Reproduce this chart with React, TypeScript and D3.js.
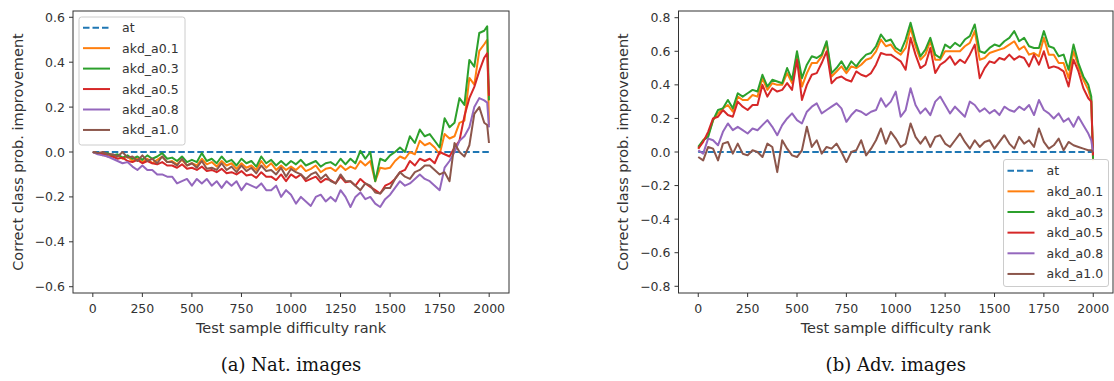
import React from 'react';
import * as d3 from 'd3';

// x positions (difficulty rank) shared by all series
const RANKS = [...d3.range(0, 1976, 25), 1990, 1999];
const AT_RANKS = [0, 1999];
const AT_VALUES = [0, 0];

const SERIES_NAMES = ['at', 'akd_a0.1', 'akd_a0.3', 'akd_a0.5', 'akd_a0.8', 'akd_a1.0'];
const COLORS = ['#1f77b4', '#ff7f0e', '#2ca02c', '#d62728', '#9467bd', '#8c564b'];

const X_TICKS = [0, 250, 500, 750, 1000, 1250, 1500, 1750, 2000];
const NAT_Y_TICKS = [-0.6, -0.4, -0.2, 0.0, 0.2, 0.4, 0.6];
const ADV_Y_TICKS = [-0.8, -0.6, -0.4, -0.2, 0.0, 0.2, 0.4, 0.6, 0.8];

// ---- (a) Nat. images ----
const NAT_A01 = [
  0, -0.005, -0.015, -0.01, -0.02, -0.015, -0.03, -0.02, -0.04, -0.03,
  -0.045, -0.03, -0.05, -0.035, -0.02, -0.045, -0.04, -0.055, -0.035, -0.06,
  -0.05, -0.06, -0.03, -0.055, -0.045, -0.065, -0.04, -0.06, -0.05, -0.075,
  -0.05, -0.07, -0.06, -0.08, -0.04, -0.07, -0.05, -0.08, -0.06, -0.08,
  -0.065, -0.08, -0.06, -0.085, -0.075, -0.06, -0.09, -0.075, -0.07, -0.085,
  -0.06, -0.08, -0.065, -0.075, -0.04, -0.06, -0.04, -0.13, -0.07, -0.075,
  -0.07, -0.04, -0.02, -0.03, 0.0, -0.01, 0.05, 0.03, 0.04, 0.02,
  -0.01, 0.08, 0.06, 0.07, 0.13, 0.14, 0.33, 0.3, 0.45, 0.48,
  0.5, 0.12,
];
const NAT_A03 = [
  0, -0.005, -0.01, -0.005, -0.015, -0.01, -0.025, -0.015, -0.03, -0.02,
  -0.035, -0.015, -0.03, -0.02, -0.005, -0.03, -0.025, -0.04, -0.02, -0.045,
  -0.035, -0.045, -0.005, -0.04, -0.03, -0.05, -0.02, -0.045, -0.035, -0.06,
  -0.03, -0.05, -0.04, -0.065, -0.02, -0.05, -0.035, -0.06, -0.04, -0.06,
  -0.04, -0.055, -0.035, -0.06, -0.05, -0.04, -0.065, -0.05, -0.045, -0.06,
  -0.03, -0.055, -0.03, -0.05, 0.005, -0.03, 0.0, -0.13, -0.03, -0.04,
  -0.015, 0.0, 0.02, 0.0, 0.07, 0.04, 0.1, 0.07, 0.08, 0.05,
  0.02, 0.15, 0.11, 0.13, 0.24, 0.21, 0.41, 0.38, 0.53, 0.54,
  0.56, 0.23,
];
const NAT_A05 = [
  0, -0.005, -0.01, -0.02, -0.02, -0.03, -0.025, -0.04, -0.045, -0.035,
  -0.05, -0.04, -0.05, -0.055, -0.045, -0.06, -0.06, -0.07, -0.055, -0.075,
  -0.07, -0.08, -0.065, -0.085, -0.08, -0.09, -0.075, -0.095, -0.09, -0.1,
  -0.085, -0.105, -0.1, -0.115, -0.09, -0.11, -0.11, -0.125, -0.1, -0.13,
  -0.1, -0.115, -0.1, -0.13, -0.12, -0.11, -0.135, -0.12, -0.125, -0.14,
  -0.11, -0.135, -0.13, -0.15, -0.12, -0.14, -0.155, -0.17, -0.185, -0.15,
  -0.14, -0.12, -0.09, -0.08, -0.04, -0.06, -0.03, -0.04, -0.03, -0.05,
  0.0, -0.01, -0.02, 0.02, 0.05, 0.16, 0.24, 0.29, 0.36, 0.42,
  0.44, 0.25,
];
const NAT_A08 = [
  0, -0.01, -0.015, -0.02, -0.03, -0.04, -0.05, -0.045, -0.065, -0.08,
  -0.06, -0.08, -0.08, -0.1, -0.1, -0.11, -0.11, -0.14, -0.13, -0.12,
  -0.15, -0.12, -0.14, -0.12, -0.15, -0.13, -0.16, -0.13, -0.15, -0.13,
  -0.17, -0.14, -0.15, -0.16, -0.14, -0.17, -0.17, -0.15, -0.2, -0.17,
  -0.19, -0.23, -0.2, -0.22, -0.24, -0.2, -0.19, -0.22, -0.2, -0.22,
  -0.17, -0.2, -0.245, -0.2, -0.18, -0.21, -0.2, -0.23, -0.245, -0.21,
  -0.19, -0.16, -0.13, -0.15, -0.14, -0.12, -0.1, -0.12, -0.13, -0.15,
  -0.17, -0.07, -0.04, 0.0, 0.05, 0.07, 0.11, 0.2, 0.24, 0.23,
  0.22, 0.11,
];
const NAT_A10 = [
  0, -0.005, 0.0, -0.01, -0.01, -0.02, 0.0, -0.025, -0.02, -0.04,
  -0.015, -0.04, -0.03, -0.05, -0.02, -0.045, -0.045, -0.06, -0.03, -0.06,
  -0.05, -0.07, -0.04, -0.075, -0.07, -0.08, -0.05, -0.08, -0.065, -0.09,
  -0.06, -0.085, -0.07, -0.095, -0.06, -0.085, -0.08, -0.1, -0.07, -0.11,
  -0.075, -0.09, -0.1, -0.12, -0.1, -0.09, -0.12, -0.1, -0.13, -0.14,
  -0.1, -0.13, -0.13, -0.15, -0.17, -0.14, -0.15, -0.18, -0.185, -0.16,
  -0.16, -0.12, -0.09, -0.11, -0.12, -0.09, -0.08, -0.06, -0.06, -0.08,
  -0.1, -0.09, -0.13, 0.04, 0.0, -0.02, 0.03, 0.17, 0.2, 0.13,
  0.12, 0.04,
];

// ---- (b) Adv. images ----
const ADV_A01 = [
  0.02, 0.07, 0.10, 0.19, 0.23, 0.26, 0.28, 0.24, 0.33, 0.31,
  0.31, 0.34, 0.33, 0.44, 0.37, 0.41, 0.40, 0.40, 0.47, 0.41,
  0.58, 0.39, 0.47, 0.53, 0.53, 0.57, 0.65, 0.45, 0.48, 0.51,
  0.47, 0.51, 0.50, 0.52, 0.55, 0.56, 0.60, 0.67, 0.63, 0.64,
  0.60, 0.58, 0.62, 0.74, 0.63, 0.55, 0.58, 0.66, 0.55, 0.55,
  0.60, 0.60, 0.60, 0.60, 0.63, 0.65, 0.72, 0.55, 0.56, 0.59,
  0.60, 0.61, 0.62, 0.64, 0.66, 0.61, 0.63, 0.58, 0.59, 0.57,
  0.68, 0.58, 0.58, 0.53, 0.53, 0.44, 0.60, 0.51, 0.43, 0.37,
  0.31, -0.05,
];
const ADV_A03 = [
  0.03, 0.07, 0.09, 0.19, 0.25, 0.26, 0.31, 0.26, 0.35, 0.33,
  0.35, 0.37, 0.36, 0.46, 0.39, 0.43, 0.42, 0.41, 0.50, 0.43,
  0.60, 0.44, 0.52, 0.57, 0.56, 0.58, 0.66, 0.47, 0.50, 0.54,
  0.49, 0.54, 0.51, 0.55, 0.58, 0.59, 0.63, 0.70, 0.66, 0.67,
  0.62, 0.60, 0.67, 0.77, 0.66, 0.57, 0.61, 0.68, 0.58, 0.56,
  0.64, 0.62, 0.65, 0.63, 0.67, 0.69, 0.76, 0.60, 0.59, 0.62,
  0.64, 0.63, 0.66, 0.68, 0.72, 0.66, 0.68, 0.63, 0.62, 0.62,
  0.72, 0.63, 0.62, 0.57, 0.58, 0.49, 0.64, 0.53, 0.45, 0.40,
  0.33, -0.04,
];
const ADV_A05 = [
  0.02, 0.06, 0.12, 0.20, 0.21, 0.25, 0.22, 0.21, 0.30, 0.27,
  0.25, 0.28, 0.28, 0.40, 0.33, 0.38, 0.36, 0.37, 0.41, 0.37,
  0.55, 0.31, 0.40, 0.46, 0.47, 0.53, 0.60, 0.41, 0.44, 0.45,
  0.43, 0.42, 0.48, 0.46, 0.45, 0.47, 0.52, 0.59, 0.58, 0.58,
  0.56, 0.54, 0.49, 0.68, 0.58, 0.50, 0.52, 0.62, 0.47, 0.52,
  0.54, 0.57, 0.52, 0.55, 0.53, 0.58, 0.64, 0.44, 0.50, 0.54,
  0.53, 0.56, 0.55, 0.58, 0.55, 0.57, 0.56, 0.51, 0.58, 0.52,
  0.60, 0.50, 0.51, 0.50, 0.48, 0.39, 0.55, 0.48, 0.38, 0.32,
  0.30, -0.02,
];
const ADV_A08 = [
  0.01, -0.01, 0.08, 0.07, 0.04, 0.12, 0.17, 0.13, 0.15, 0.13,
  0.11, 0.14, 0.13, 0.16, 0.19, 0.15, 0.10, 0.16, 0.20, 0.23,
  0.19, 0.17, 0.24, 0.27, 0.29, 0.23, 0.25, 0.27, 0.29, 0.26,
  0.18, 0.22, 0.25, 0.24, 0.22, 0.24, 0.25, 0.32, 0.27, 0.30,
  0.36, 0.21, 0.25, 0.38, 0.28, 0.23, 0.26, 0.22, 0.30, 0.33,
  0.28, 0.23, 0.27, 0.24, 0.21, 0.30, 0.28, 0.24, 0.26, 0.23,
  0.25, 0.22, 0.27, 0.25, 0.24, 0.27, 0.25, 0.28, 0.22, 0.31,
  0.25, 0.23, 0.20, 0.23, 0.18, 0.20, 0.15, 0.21, 0.16, 0.11,
  0.07, 0.0,
];
const ADV_A10 = [
  -0.03, -0.05, 0.03, 0.02, -0.05, 0.05, 0.06, -0.01, 0.05, -0.01,
  -0.02, 0.01, 0.0, -0.03, 0.05, 0.03, -0.12, 0.07, 0.02, -0.02,
  -0.03, 0.01, 0.15, 0.03, 0.07, -0.01, 0.03, 0.02, 0.05, 0.0,
  -0.06, 0.0, 0.01, 0.07, -0.02, 0.02, 0.07, 0.14, 0.05, 0.12,
  0.08, 0.03, 0.05, 0.17, 0.09, 0.05, 0.09, 0.03, 0.09, 0.10,
  0.05, 0.03, 0.07, 0.11, 0.06, 0.02, 0.07, 0.03, 0.06, 0.07,
  0.02, 0.06, 0.10, 0.05, 0.02, 0.09, 0.05, 0.07, 0.03, 0.14,
  0.06, 0.02, 0.04, 0.08, 0.01, 0.06, 0.04, 0.03, 0.02, 0.01,
  0.01, 0.0,
];

const NAT_SERIES = [NAT_A01, NAT_A03, NAT_A05, NAT_A08, NAT_A10];
const ADV_SERIES = [ADV_A01, ADV_A03, ADV_A05, ADV_A08, ADV_A10];

const FONT = 'DejaVu Sans, sans-serif';
const INK = '#333';

type PanelProps = {
  left: number; right: number; top: number; bottom: number;
  yMax: number; yTicks: number[]; series: number[][];
  legendX: number; legendY: number; legendW: number; legendH: number;
  legendRowY: number; legendRowGap: number;
  yLabelX: number; caption: string;
};

function Panel(p: PanelProps) {
  const x = d3.scaleLinear().domain([-100, 2100]).range([p.left, p.right]);
  const y = d3.scaleLinear().domain([-p.yMax, p.yMax]).range([p.bottom, p.top]);
  const line = d3.line<number>().x((_, i) => x(RANKS[i])).y((v) => y(v));
  const atLine = d3.line<number>().x((_, i) => x(AT_RANKS[i])).y((v) => y(v));
  const fmt = d3.format('.1f');
  const cx = (p.left + p.right) / 2;
  const cy = (p.top + p.bottom) / 2;
  return (
    <g>
      <defs>
        <clipPath id={'clip' + p.left}>
          <rect x={p.left} y={p.top} width={p.right - p.left} height={p.bottom - p.top} />
        </clipPath>
      </defs>
      <g clipPath={`url(#clip${p.left})`}>
        <path d={atLine(AT_VALUES) || ''} fill="none" stroke={COLORS[0]} strokeWidth={2} strokeDasharray="6.5,3" />
        {p.series.map((s, i) => (
          <path key={i} d={line(s) || ''} fill="none" stroke={COLORS[i + 1]} strokeWidth={2} strokeLinejoin="round" />
        ))}
      </g>
      <rect x={p.left} y={p.top} width={p.right - p.left} height={p.bottom - p.top} fill="none" stroke={INK} strokeWidth={1} />
      {X_TICKS.map((t) => (
        <g key={'x' + t}>
          <line x1={x(t)} x2={x(t)} y1={p.bottom} y2={p.bottom + 4} stroke={INK} />
          <text x={x(t)} y={312.5} textAnchor="middle" fontFamily={FONT} fontSize={12.5} fill={INK}>{t}</text>
        </g>
      ))}
      {p.yTicks.map((t) => (
        <g key={'y' + t}>
          <line x1={p.left - 4} x2={p.left} y1={y(t)} y2={y(t)} stroke={INK} />
          <text x={p.left - 8} y={y(t)} dy="0.36em" textAnchor="end" fontFamily={FONT} fontSize={12.5} fill={INK}>{fmt(t)}</text>
        </g>
      ))}
      <text x={cx} y={333} textAnchor="middle" fontFamily={FONT} fontSize={14.5} fill={INK}>Test sample difficulty rank</text>
      <text transform={`translate(${p.yLabelX},${cy}) rotate(-90)`} textAnchor="middle" fontFamily={FONT} fontSize={14.5} fill={INK}>Correct class prob. improvement</text>
      <rect x={p.legendX} y={p.legendY} width={p.legendW} height={p.legendH} rx={2.5} fill="#fff" fillOpacity={0.8} stroke="#ccc" strokeWidth={1} />
      {SERIES_NAMES.map((n, i) => {
        const ly = p.legendRowY + i * p.legendRowGap;
        return (
          <g key={n}>
            <line x1={p.legendX + 4} x2={p.legendX + 31} y1={ly} y2={ly} stroke={COLORS[i]} strokeWidth={2} strokeDasharray={i === 0 ? '6.5,3' : undefined} />
            <text x={p.legendX + 43} y={ly} dy="0.36em" fontFamily={FONT} fontSize={12.5} fill={INK}>{n}</text>
          </g>
        );
      })}
      <text x={cx} y={371} textAnchor="middle" fontFamily="DejaVu Serif, serif" fontSize={18} fill="#111">{p.caption}</text>
    </g>
  );
}

export default function App() {
  return (
    <svg width={1114} height={381} style={{ position: 'absolute', left: 0, top: 0, background: '#fff' }}>
      <rect x={0} y={0} width={1114} height={381} fill="#fff" />
      <Panel left={73} right={509} top={11} bottom={293} yMax={0.628} yTicks={NAT_Y_TICKS} series={NAT_SERIES}
        legendX={79} legendY={17} legendW={106} legendH={128} legendRowY={27.7} legendRowGap={20.45}
        yLabelX={22.5} caption="(a) Nat. images" />
      <Panel left={678.5} right={1113} top={11} bottom={293} yMax={0.84} yTicks={ADV_Y_TICKS} series={ADV_SERIES}
        legendX={1003.5} legendY={159.5} legendW={105} legendH={127} legendRowY={170.7} legendRowGap={20.65}
        yLabelX={628} caption="(b) Adv. images" />
    </svg>
  );
}
